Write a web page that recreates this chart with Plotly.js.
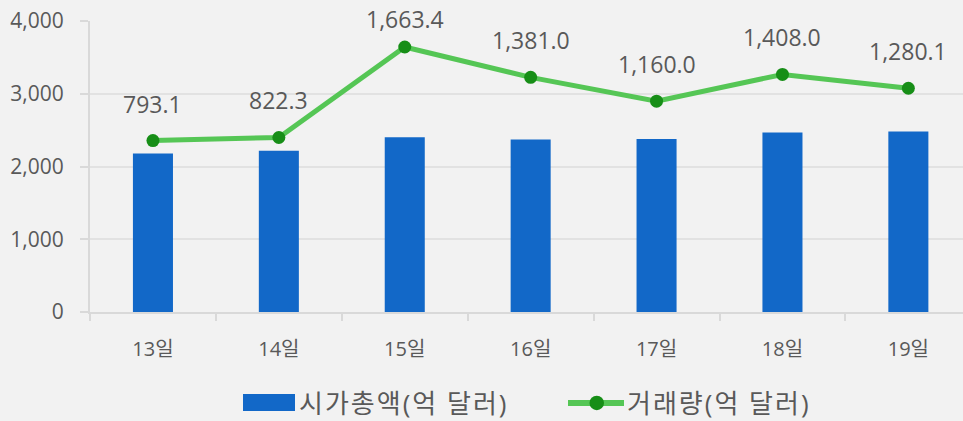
<!DOCTYPE html>
<html>
<head>
<meta charset="utf-8">
<script src="https://cdn.plot.ly/plotly-3.0.1.min.js"></script>
<style>
html,body{margin:0;padding:0;background:#f2f2f2;}
#chart{width:963px;height:421px;}
#chart g.annotation[data-index="7"] text,
#chart g.annotation[data-index="8"] text{letter-spacing:2px;}
</style>
</head>
<body>
<div id="chart"></div>
<script>
// ---- data ----
const categories = ['13일', '14일', '15일', '16일', '17일', '18일', '19일'];
const marketCap = [2177, 2218, 2401, 2370, 2378, 2466, 2480];          // 시가총액(억 달러)
const tradeVolume = [793.1, 822.3, 1663.4, 1381.0, 1160.0, 1408.0, 1280.1]; // 거래량(억 달러)
const seriesNames = ['시가총액(억 달러)', '거래량(억 달러)'];
const yTickValues = [0, 1000, 2000, 3000, 4000];

// ---- styles ----
const FONT = '"Open Sans", "Noto Sans CJK KR", sans-serif';
const TEXT = '#595959';
const BLUE = '#1268C8';
const GREEN = '#55C655';
const DKGREEN = '#178E17';
const W = 963, H = 421;
const M = {l: 90, r: 0, t: 21, b: 109};
const PW = W - M.l - M.r, PH = H - M.t - M.b;
const px = x => (x - M.l) / PW;
const py = y => (H - M.b - y) / PH;
const Y2RANGE = [-800, 1905];

const traces = [
  {
    type: 'bar', name: seriesNames[0], x: categories, y: marketCap,
    marker: {color: BLUE}, yaxis: 'y', hoverinfo: 'skip', showlegend: false
  },
  {
    type: 'scatter', mode: 'lines+markers', name: seriesNames[1], x: categories, y: tradeVolume,
    yaxis: 'y2', line: {color: GREEN, width: 5}, marker: {color: DKGREEN, size: 13},
    hoverinfo: 'skip', showlegend: false
  }
];

// data labels: kept inside the chart area (like the original), otherwise 37px above the point
const annotations = tradeVolume.map((v, i) => {
  const pointPx = M.t + (Y2RANGE[1] - v) / (Y2RANGE[1] - Y2RANGE[0]) * PH;
  const shift = Math.min(37, pointPx - 19);
  return {
    x: categories[i], y: v, xref: 'x', yref: 'y2', yshift: shift, showarrow: false,
    text: v.toLocaleString('en-US', {minimumFractionDigits: 1, maximumFractionDigits: 1}),
    font: {family: FONT, size: 23, color: TEXT}
  };
});

// custom legend (annotations 7 and 8)
annotations.push({
  xref: 'paper', yref: 'paper', x: px(307), y: py(403), xanchor: 'left', yanchor: 'middle',
  showarrow: false, text: seriesNames[0], font: {family: FONT, size: 26, color: TEXT}
});
annotations.push({
  xref: 'paper', yref: 'paper', x: px(634), y: py(403), xanchor: 'left', yanchor: 'middle',
  showarrow: false, text: seriesNames[1], font: {family: FONT, size: 26, color: TEXT}
});
const shapes = [
  {type: 'rect', xref: 'paper', yref: 'paper', x0: px(243), x1: px(295), y0: py(411), y1: py(394),
   fillcolor: BLUE, line: {width: 0}},
  {type: 'line', xref: 'paper', yref: 'paper', x0: px(568), x1: px(624), y0: py(403), y1: py(403),
   line: {color: GREEN, width: 6}},
  {type: 'circle', xref: 'paper', yref: 'paper', x0: px(589.5), x1: px(604), y0: py(410.2), y1: py(395.7),
   fillcolor: DKGREEN, line: {width: 0}}
];

const layout = {
  width: W, height: H,
  margin: M,
  paper_bgcolor: '#f2f2f2', plot_bgcolor: '#f2f2f2',
  font: {family: FONT, color: TEXT},
  showlegend: false,
  bargap: 0.682,
  xaxis: {
    type: 'category', range: [-0.5, 6.434], showgrid: false, zeroline: false,
    showline: true, linecolor: '#d9d9d9', linewidth: 2,
    ticks: 'outside', tickson: 'boundaries', ticklen: 7, tickcolor: '#d9d9d9', tickwidth: 2,
    tickfont: {family: FONT, size: 20, color: TEXT}, ticklabelstandoff: 18, fixedrange: true
  },
  yaxis: {
    range: [0, 4000], tickvals: yTickValues, tickformat: ',d',
    showline: true, linecolor: '#d9d9d9', linewidth: 2,
    ticks: 'outside', ticklen: 8, tickcolor: '#d9d9d9', tickwidth: 2,
    gridcolor: '#e2e2e2', gridwidth: 2, zeroline: false,
    tickfont: {family: FONT, size: 21, color: TEXT}, ticklabelstandoff: 12, fixedrange: true
  },
  yaxis2: {
    overlaying: 'y', range: Y2RANGE, visible: false, fixedrange: true
  },
  annotations: annotations,
  shapes: shapes
};

Plotly.newPlot('chart', traces, layout, {displayModeBar: false, staticPlot: true});
</script>
</body>
</html>
